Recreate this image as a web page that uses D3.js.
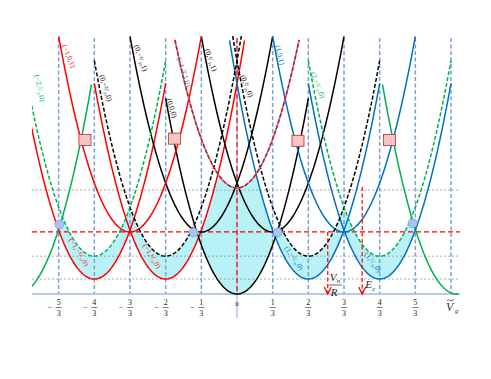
<!DOCTYPE html>
<html>
<head>
<meta charset="utf-8">
<script src="https://cdn.jsdelivr.net/npm/d3@7"></script>
<style>
  body { margin: 0; background: #fff; }
  svg { display: block; }
</style>
</head>
<body>
<div id="chart"></div>
<script>
// ---- data (gate voltage in units of e/C, energy in units of Ec) ----
const stateLabels  = ["(−2,0,0)", "(2,0,0)", "(−1,−¹/₃,0)", "(−1,¹/₃,0)", "(1,−¹/₃,0)", "(1,¹/₃,0)",
                      "(0,0,0)", "(0,−¹/₃,1)", "(0,¹/₃,1)", "(−1,0,1)", "(1,0,1)",
                      "(0,−²/₃,0)", "(0,²/₃,0)", "(−2,²/₃,0)", "(2,−²/₃,0)", "(±1,∓1,0)"];
const stateCharge  = [-2, 2, -1, -1, 1, 1, 0, 0, 0, -1, 1, 0, 0, -2, 2, 9];
const stateCentre  = [-2.05, 2.05, -4/3, -2/3, 2/3, 4/3, 0, -1/3, 1/3, -1, 1, -2/3, 2/3, -4/3, 4/3, 0];
const stateOffset  = [0, 0, 0.034, 0.034, 0.034, 0.034, 0, 0.141, 0.141, 0.141, 0.141, 0.086, 0.086, 0.086, 0.086, 0.241];
const stateFrom    = [-2.3, 1.36, -2.3, -4/3, -0.07, 2/3, -2/3, -1, -1/3, -5/3, 1/3, -4/3, -0.05, -2.3, 2/3, -0.58];
const stateTo      = [-1.36, 2.07, -2/3, 0.07, 4/3, 2, 2/3, 1/3, 1, -1/3, 5/3, 0.05, 4/3, -2/3, 2, 0.58];
const stateDashed  = [false, false, false, false, false, false, false, false, false, false, false, true, true, true, true, true];

// shaded windows: lower envelope states vs. upper envelope states
const windowLower = [[2, 3], [6], [4, 5]];
const windowUpper = [[0, 13, 11, 6], [2, 3, 4, 5, 15], [6, 12, 14, 1]];

// tick labels: numerators over 3
const tickNums = [-5, -4, -3, -2, -1, 0, 1, 2, 3, 4, 5];
// level lines (energy)
const greyLevels = [0.034, 0.086, 0.236];
const redLevel = 0.141;

// degeneracy points (circles) and crossings (squares)
const circlePts = [[-1.661, 0.158], [-0.405, 0.140], [0.380, 0.140], [1.642, 0.161]];
const squarePts = [[-1.421, 0.350], [-0.584, 0.353], [0.570, 0.348], [1.425, 0.350]];

// arrows marking Vn/R and Ec
const arrowVn = [0.848, 0.141];
const arrowEc = [1.170, 0.243];

// ---- layout ----
const W = 491, H = 379;
const x = d3.scaleLinear().domain([-2, 2]).range([23, 451]);
const y = d3.scaleLinear().domain([0, 0.6]).range([294, 30]);
const chargeColour = { "-2": "#00b050", "-1": "#ff0000", "0": "#000000", "1": "#0070c0", "2": "#00b050", "9": "#ff0000" };
const gridBlue = "#7aa0d4";
const serif = "'Liberation Serif', 'DejaVu Serif', serif";

const svg = d3.select("#chart").append("svg").attr("width", W).attr("height", H);

svg.append("defs").append("clipPath").attr("id", "plotClip")
  .append("rect").attr("x", 32).attr("y", 36).attr("width", 430).attr("height", 262);

const energy = (i, v) => (v - stateCentre[i]) ** 2 + stateOffset[i];

// shaded windows
const vSamples = d3.range(-2.2, 2.2001, 0.004);
const winG = svg.append("g").attr("clip-path", "url(#plotClip)");
windowLower.forEach((lo, k) => {
  const pts = vSamples.map(v => ({
    v,
    lo: d3.min(lo, i => energy(i, v)),
    hi: d3.min(windowUpper[k], i => energy(i, v))
  }));
  winG.append("path")
    .datum(pts)
    .attr("fill", "#b8f2f7")
    .attr("d", d3.area()
      .defined(d => d.hi > d.lo)
      .x(d => x(d.v)).y0(d => y(d.lo)).y1(d => y(d.hi)));
});

// vertical grid lines
const vLines = tickNums.filter(k => k !== 0).map(k => k / 3).concat([2]);
svg.append("g").selectAll("line").data(vLines).enter().append("line")
  .attr("x1", d => x(d)).attr("x2", d => x(d))
  .attr("y1", 38).attr("y2", y(0))
  .attr("stroke", gridBlue).attr("stroke-width", 1.5).attr("stroke-dasharray", "4,2.5");

// zero line
svg.append("line").attr("x1", x(0)).attr("x2", x(0)).attr("y1", 38).attr("y2", 318)
  .attr("stroke", "#a9c0e0").attr("stroke-width", 1.3);

// horizontal level lines
svg.append("g").selectAll("line").data(greyLevels).enter().append("line")
  .attr("x1", 32).attr("x2", 460).attr("y1", d => y(d)).attr("y2", d => y(d))
  .attr("stroke", "#8c8c8c").attr("stroke-width", 0.7).attr("stroke-dasharray", "2,2");
svg.append("line").attr("x1", 32).attr("x2", 460).attr("y1", y(redLevel)).attr("y2", y(redLevel))
  .attr("stroke", "#ff0000").attr("stroke-width", 1.2).attr("stroke-dasharray", "5,3");

// axis
svg.append("line").attr("x1", 32).attr("x2", 460).attr("y1", y(0)).attr("y2", y(0))
  .attr("stroke", "#9db8dc").attr("stroke-width", 1.6);
svg.append("line").attr("x1", x(0)).attr("x2", x(0)).attr("y1", 38).attr("y2", y(0))
  .attr("stroke", "#ff0000").attr("stroke-width", 1.2).attr("stroke-dasharray", "5,3");

// parabolas
const curveG = svg.append("g").attr("clip-path", "url(#plotClip)");
const line = d3.line().x(d => x(d[0])).y(d => y(d[1]));
stateLabels.forEach((lab, i) => {
  const vs = d3.range(stateFrom[i], stateTo[i] + 1e-9, (stateTo[i] - stateFrom[i]) / 120);
  const pts = vs.map(v => [v, energy(i, v)]);
  if (stateCharge[i] === 9) {
    curveG.append("path").datum(pts).attr("d", line).attr("fill", "none")
      .attr("stroke", "#5b9bd5").attr("stroke-width", 1.6);
  }
  curveG.append("path").datum(pts).attr("d", line).attr("fill", "none")
    .attr("stroke", chargeColour[stateCharge[i]])
    .attr("stroke-width", 1.5)
    .attr("stroke-dasharray", stateDashed[i] ? "4,2" : null);
});

// state labels (hand placed along curves)
const labelSpots = [
  [2, 79, 252, 58], [3, 152, 256, 58], [4, 294, 258, 55], [5, 373, 262, 55],
  [6, 172, 108, 72], [7, 141, 58, 70], [8, 211, 60, 70], [9, 69, 56, 68], [10, 280, 55, 75],
  [11, 106, 88, 72], [12, 247, 86, 68], [13, 40, 88, 78], [14, 318, 85, 68], [15, 184, 72, 72]
];
svg.append("g").selectAll("text").data(labelSpots).enter().append("text")
  .attr("transform", d => `translate(${d[1]},${d[2]}) rotate(${d[3]})`)
  .attr("text-anchor", "middle").attr("dy", "0.35em")
  .style("font-family", serif).style("font-size", "7.5px")
  .style("fill", d => stateCharge[d[0]] === 9 ? "#777" : chargeColour[stateCharge[d[0]]])
  .text(d => stateLabels[d[0]]);

// tick labels as fractions
const tickG = svg.append("g").style("font-family", serif).style("font-size", "8px").style("fill", "#222");
tickNums.forEach(k => {
  const cx = x(k / 3);
  if (k === 0) {
    tickG.append("text").attr("x", cx).attr("y", 306).attr("text-anchor", "middle")
      .style("font-size", "7px").text("0");
    return;
  }
  tickG.append("text").attr("x", cx).attr("y", 305).attr("text-anchor", "middle").text(Math.abs(k));
  tickG.append("line").attr("x1", cx - 3).attr("x2", cx + 3).attr("y1", 307.5).attr("y2", 307.5)
    .attr("stroke", "#222").attr("stroke-width", 0.6);
  tickG.append("text").attr("x", cx).attr("y", 316).attr("text-anchor", "middle").text(3);
  if (k < 0) tickG.append("text").attr("x", cx - 9).attr("y", 310).attr("text-anchor", "middle").text("−");
});

// Vg label (tilde drawn as a small wave over the V)
const vg = svg.append("g").style("font-family", serif).style("font-style", "italic").style("fill", "#333");
vg.append("text").attr("x", x(2) - 5).attr("y", 311).style("font-size", "12px").text("V");
vg.append("text").attr("x", x(2) + 4).attr("y", 313).style("font-size", "7px").text("g");
const tx = x(2) - 4, ty = 300;
vg.append("path")
  .attr("d", `M${tx},${ty + 1} C${tx + 2},${ty - 2} ${tx + 4},${ty + 3} ${tx + 7},${ty - 1}`)
  .attr("fill", "none").attr("stroke", "#333").attr("stroke-width", 0.8);

// arrows
const arrowG = svg.append("g");
[arrowVn, arrowEc].forEach(a => {
  arrowG.append("line").attr("x1", x(a[0])).attr("x2", x(a[0])).attr("y1", y(a[1])).attr("y2", y(0) - 1)
    .attr("stroke", "#ff0000").attr("stroke-width", 1.2).attr("stroke-dasharray", "4,2.5");
  arrowG.append("path")
    .attr("d", `M${x(a[0]) - 3.5},${y(0) - 7} L${x(a[0])},${y(0)} L${x(a[0]) + 3.5},${y(0) - 7}`)
    .attr("fill", "none").attr("stroke", "#ff0000").attr("stroke-width", 1.3);
});
const vnG = svg.append("g").style("font-family", serif).style("font-style", "italic").style("fill", "#222");
vnG.append("text").attr("x", x(arrowVn[0]) + 2).attr("y", 281).style("font-size", "11px").text("V");
vnG.append("text").attr("x", x(arrowVn[0]) + 9).attr("y", 283).style("font-size", "7px").text("n");
vnG.append("line").attr("x1", x(arrowVn[0]) + 1).attr("x2", x(arrowVn[0]) + 14).attr("y1", 285).attr("y2", 285)
  .attr("stroke", "#222").attr("stroke-width", 0.7);
vnG.append("text").attr("x", x(arrowVn[0]) + 3).attr("y", 296).style("font-size", "11px").text("R");
vnG.append("text").attr("x", x(arrowEc[0]) + 3).attr("y", 288).style("font-size", "11px").text("E");
vnG.append("text").attr("x", x(arrowEc[0]) + 10).attr("y", 291).style("font-size", "7px").text("c");

// markers
svg.append("g").selectAll("circle").data(circlePts).enter().append("circle")
  .attr("cx", d => x(d[0])).attr("cy", d => y(d[1])).attr("r", 4.5)
  .attr("fill", "#aac4f2").attr("stroke", "#7f9fd6").attr("stroke-width", 0.8);
svg.append("g").selectAll("rect").data(squarePts).enter().append("rect")
  .attr("x", d => x(d[0]) - 6).attr("y", d => y(d[1]) - 5.5).attr("width", 12).attr("height", 11)
  .attr("fill", "#f9c4c4").attr("stroke", "#c0504d").attr("stroke-width", 1);
</script>
</body>
</html>
